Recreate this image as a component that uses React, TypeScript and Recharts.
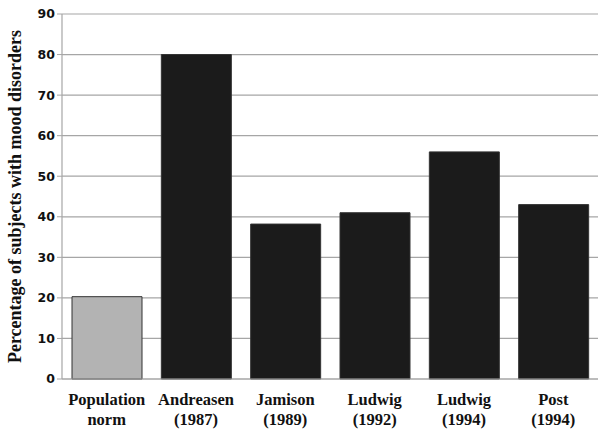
import { BarChart, Bar, XAxis, YAxis, CartesianGrid, Cell } from 'recharts';

const studies = ['Population norm', 'Andreasen (1987)', 'Jamison (1989)', 'Ludwig (1992)', 'Ludwig (1994)', 'Post (1994)'];
const labelLines = [['Population', 'norm'], ['Andreasen', '(1987)'], ['Jamison', '(1989)'], ['Ludwig', '(1992)'], ['Ludwig', '(1994)'], ['Post', '(1994)']];
const percentages = [20.3, 80, 38.2, 41, 56, 43];
const yTicks = [0, 10, 20, 30, 40, 50, 60, 70, 80, 90];
const boundaryTicks = [0, 1, 2, 3, 4, 5, 6];

const data = studies.map((name, i) => ({ name, idx: i, value: percentages[i] }));

const SERIF = '"Liberation Serif", "Times New Roman", serif';
const SANS = '"DejaVu Sans", Verdana, sans-serif';

// two-line bold serif category label
function CatTick(props: any) {
  const { x, y, payload } = props;
  const i = studies.indexOf(payload.value);
  const lines = labelLines[i] || [payload.value];
  return (
    <text x={x} y={y} textAnchor="middle" fontFamily={SERIF} fontWeight="bold" fontSize={16.5} fill="#111">
      {lines.map((l, k) => (
        <tspan key={k} x={x} dy={k === 0 ? 12 : 20}>{l}</tspan>
      ))}
    </text>
  );
}

export default function App() {
  return (
    <div style={{ position: 'absolute', left: 0, top: 0, width: 600, height: 431, background: '#fff' }}>
      <BarChart
        width={600}
        height={431}
        data={data}
        margin={{ top: 14, right: 2, bottom: 0, left: 0 }}
        barSize={70}
      >
        <CartesianGrid vertical={false} stroke="#a6a6a6" strokeWidth={1.2} xAxisId="zcats" />
        <XAxis
          xAxisId="aedges"
          type="number"
          dataKey="idx"
          domain={[0, 6]}
          ticks={boundaryTicks}
          tick={false}
          tickSize={5}
          axisLine={{ stroke: '#a6a6a6', strokeWidth: 1.2 }}
          tickLine={{ stroke: '#a6a6a6' }}
          height={6}
        />
        <XAxis
          xAxisId="zcats"
          dataKey="name"
          interval={0}
          axisLine={false}
          tickLine={false}
          tick={<CatTick />}
          height={46}
        />
        <YAxis
          domain={[0, 90]}
          ticks={yTicks}
          width={62}
          tickSize={5}
          axisLine={{ stroke: '#a6a6a6', strokeWidth: 1.2 }}
          tickLine={{ stroke: '#a6a6a6' }}
          tick={{ fontFamily: SANS, fontWeight: 'bold', fontSize: 12.5, fill: '#111' }}
          label={{
            value: 'Percentage of subjects with mood disorders',
            angle: -90,
            position: 'insideLeft',
            dx: 10,
            style: { textAnchor: 'middle', fontFamily: SERIF, fontWeight: 'bold', fontSize: 18, fill: '#111' },
          }}
        />
        <Bar dataKey="value" xAxisId="zcats" isAnimationActive={false} stroke="#333" strokeWidth={1}>
          {data.map((d, i) => (
            <Cell key={d.name} fill={i === 0 ? '#b3b3b3' : '#1b1b1b'} />
          ))}
        </Bar>
      </BarChart>
    </div>
  );
}
